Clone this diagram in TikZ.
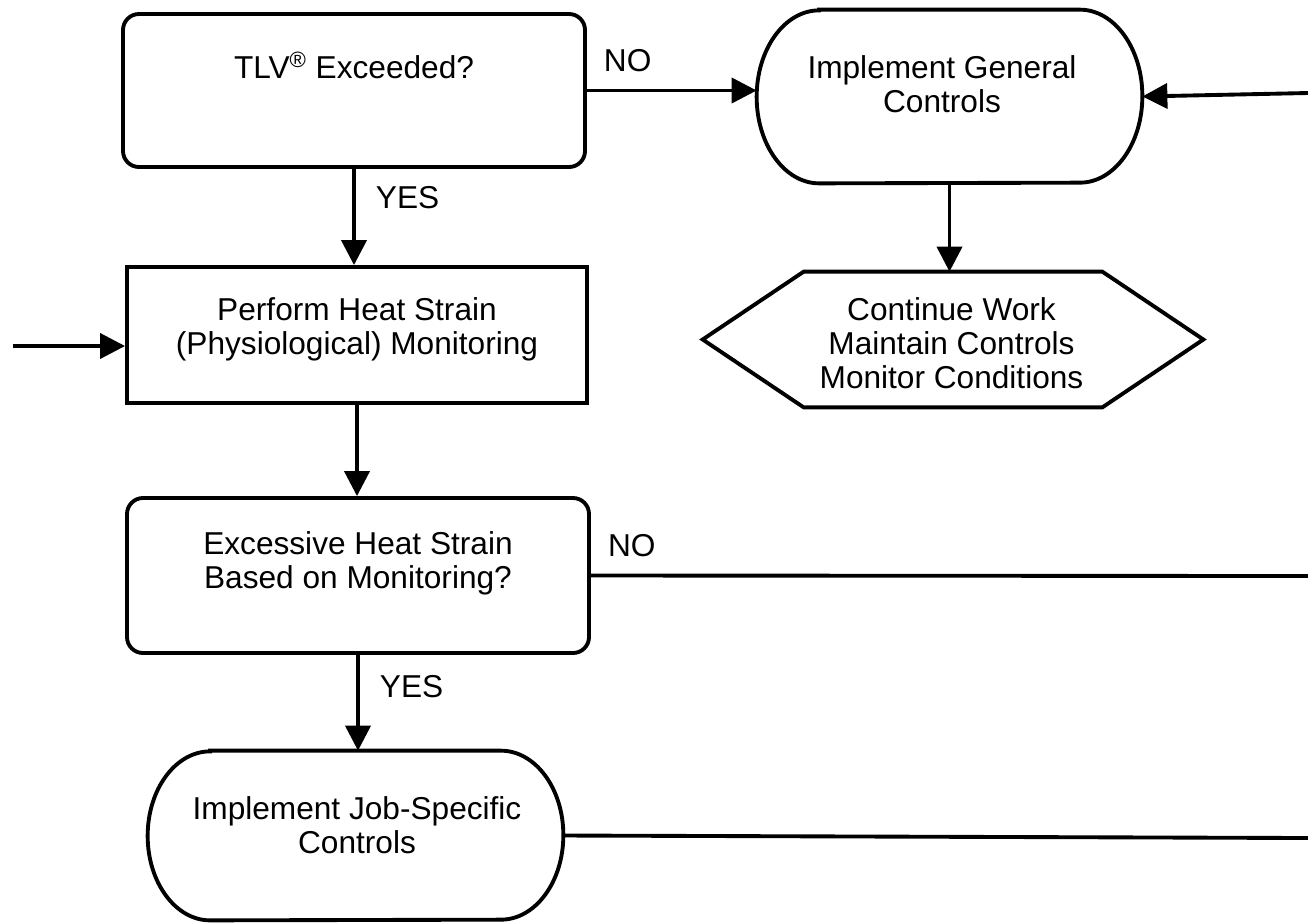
\documentclass[tikz,border=0pt]{standalone}
\usepackage{fontspec}
\setmainfont{Liberation Sans}
\usetikzlibrary{arrows.meta,calc}

\begin{document}
\begin{tikzpicture}[
txt/.style = {font=\fontsize{18}{19.5}\selectfont, align=center, inner sep=0pt},
lbl/.style = {font=\fontsize{18}{19.5}\selectfont, inner sep=0pt},
box/.style = {rectangle, draw, line width=2.2pt, minimum width=9.2cm, minimum height=2.72cm},
decision/.style = {box, rounded corners=0.32cm, minimum width=9.24cm, minimum height=3.06cm},
frame/.style = {inner sep=0pt},
outline/.style = {draw, line width=2.2pt},
line/.style = {draw, line width=2.2pt, -{Triangle[length=0.5cm,width=0.5cm]}}]

\useasboundingbox (0,0) rectangle (26.16,-18.46);

% shapes
\node [decision] (tlv) at (7.08,-1.81) {};
\node [box] (perform) at (7.14,-6.70) {};
\node [decision, minimum height=3.1cm] (excess) at (7.16,-11.51) {};
\node [frame, minimum width=7.7cm, minimum height=3.46cm] (general) at (18.99,-1.93) {};
\node [frame, minimum width=10cm, minimum height=2.7cm] (cont) at (19.06,-6.79) {};
\node [frame, minimum width=8.3cm, minimum height=3.38cm] (jobspec) at (7.11,-16.71) {};

% rounded ends and hexagon
\foreach \s/\r in {general/1.73,jobspec/1.69}
  \path [outline] ([xshift=1.25cm]\s.north west) -- ([xshift=-1.25cm]\s.north east)
    arc[start angle=90, end angle=-90, x radius=1.25cm, y radius=\r cm]
    -- ([xshift=1.25cm]\s.south west)
    arc[start angle=270, end angle=90, x radius=1.25cm, y radius=\r cm] -- cycle;
\path [outline] (cont.west) -- ([xshift=2.02cm]cont.north west) -- ([xshift=-2.02cm]cont.north east)
  -- (cont.east) -- ([xshift=-2.02cm]cont.south east) -- ([xshift=2.02cm]cont.south west) -- cycle;

% texts
\node [txt] (tlv-t) at (7.08,-1.30) {TLV\textsuperscript{®} Exceeded?};
\node [txt] (perform-t) at (7.14,-6.59) {Perform Heat Strain\\(Physiological) Monitoring};
\node [txt] (excess-t) at (7.16,-11.26) {Excessive Heat Strain\\Based on Monitoring?};
\node [txt] (general-t) at (18.84,-1.68) {Implement General\\Controls};
\node [txt] (cont-t) at (19.03,-6.86) {Continue Work\\Maintain Controls\\Monitor Conditions};
\node [txt] (jobspec-t) at (7.14,-16.51) {Implement Job-Specific\\Controls};

% free ends
\coordinate (rin) at (26.16,-1.86);
\coordinate (lin) at (0.26,-6.92);
\coordinate (rno) at (26.16,-11.52);
\coordinate (rjob) at (26.16,-16.76);

\path [line] (tlv.east) -- node [lbl, pos=0.24, above=0.33cm] {NO} (tlv.east -| general.west);
\path [line] (rin) -- (general.east);
\path [line] (tlv.south) -- node [lbl, pos=0.3, right=0.4cm] {YES} (tlv.south |- perform.north);
\path [line] (general.south) -- (general.south |- cont.north);
\path [line] (lin) -- (lin -| perform.west);
\path [line] (perform.south) -- (perform.south |- excess.north);
\path [outline] (excess.east) -- node [lbl, pos=0.057, above=0.33cm] {NO} (rno);
\path [line] (excess.south) -- node [lbl, pos=0.33, right=0.4cm] {YES} (excess.south |- jobspec.north);
\path [outline] (jobspec.east) -- (rjob);
\end{tikzpicture}
\end{document}
